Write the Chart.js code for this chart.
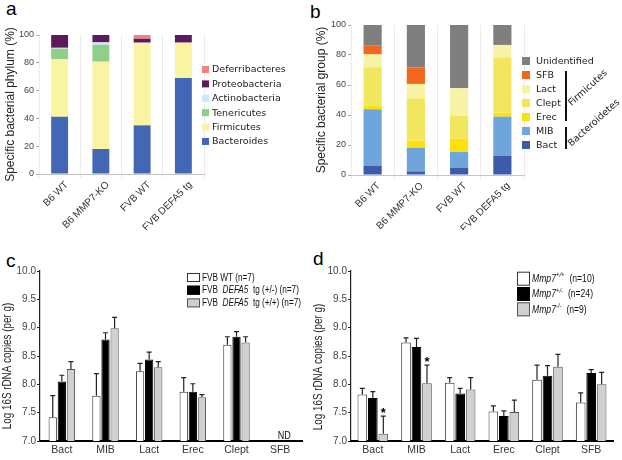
<!DOCTYPE html>
<html>
<head>
<meta charset="utf-8">
<script src="https://cdn.jsdelivr.net/npm/chart.js@4/dist/chart.umd.min.js"></script>
<style>
  body { margin: 0; background: #fff; width: 622px; height: 460px; position: relative; overflow: hidden; font-family: "Liberation Sans", Arial, sans-serif; }
  canvas { position: absolute; }
  .panel { position: absolute; font-size: 19px; line-height: 19px; color: #000; }
</style>
</head>
<body>
<div class="panel" style="left:6px;top:-1px">a</div>
<div class="panel" style="left:310px;top:2px">b</div>
<div class="panel" style="left:6px;top:251px">c</div>
<div class="panel" style="left:313px;top:249px">d</div>
<canvas id="chartA" width="311" height="230" style="left:0;top:0"></canvas>
<canvas id="chartB" width="311" height="230" style="left:311px;top:0"></canvas>
<canvas id="chartC" width="311" height="230" style="left:0;top:230px"></canvas>
<canvas id="chartD" width="311" height="230" style="left:311px;top:230px"></canvas>
<script>
// --- panel a: phylum composition (%) ---
var groups = ['B6 WT', 'B6 MMP7-KO', 'FVB WT', 'FVB DEFA5 tg'];
var phyla = ['Bacteroides', 'Firmicutes', 'Tenericutes', 'Actinobacteria', 'Proteobacteria', 'Deferribacteres'];
var bacteroides = [41.2, 18, 35, 69];
var firmicutes = [41.3, 62.8, 59.5, 25.5];
var tenericutes = [7.7, 12.2, 0, 0];
var actinobacteria = [0.6, 1.7, 0, 0];
var proteobacteria = [9.2, 5.3, 2.8, 5.5];
var deferribacteres = [0, 0, 2.7, 0];

// --- panel b: bacterial groups (%) ---
var bacGroups = ['Bact', 'MIB', 'Erec', 'Clept', 'Lact', 'SFB', 'Unidentified'];
var bBact = [6, 2.4, 4.9, 12.7];
var bMIB = [37.8, 15.8, 10.4, 26.2];
var bErec = [2.6, 4.7, 8.9, 2.7];
var bClept = [25.4, 28.2, 15.1, 36.8];
var bLact = [8.6, 9.6, 18.5, 8.3];
var bSFB = [5.8, 10.9, 0, 0];
var bUnident = [13.8, 28.4, 42.2, 13.3];
var phylumGroups = ['Firmicutes', 'Bacteroidetes'];

var pctTicks = [0, 20, 40, 60, 80, 100];

// --- panels c and d: log 16S rDNA copies ---
var assays = ['Bact', 'MIB', 'Lact', 'Erec', 'Clept', 'SFB'];
var logTicks = [7.0, 7.5, 8.0, 8.5, 9.0, 9.5, 10.0];

var fvbWT = [7.42, 7.80, 8.23, 7.87, 8.70, null];
var fvbWTErr = [0.38, 0.39, 0.14, 0.25, 0.14, null];
var tgHet = [8.05, 8.79, 8.44, 7.87, 8.84, null];
var tgHetErr = [0.11, 0.12, 0.13, 0.14, 0.09, null];
var tgHom = [8.27, 8.99, 8.30, 7.77, 8.74, null];
var tgHomErr = [0.13, 0.19, 0.10, 0.05, 0.10, null];
var notDetected = ['SFB'];

var mmpWT = [7.82, 8.74, 8.03, 7.52, 8.08, 7.68];
var mmpWTErr = [0.11, 0.08, 0.09, 0.10, 0.26, 0.17];
var mmpHet = [7.76, 8.66, 7.84, 7.44, 8.15, 8.20];
var mmpHetErr = [0.11, 0.15, 0.09, 0.09, 0.18, 0.06];
var mmpKO = [7.13, 8.02, 7.91, 7.51, 8.31, 8.00];
var mmpKOErr = [0.31, 0.32, 0.21, 0.21, 0.22, 0.21];
var koSignificant = ['Bact', 'MIB'];

var SANS = '"Liberation Sans", Arial, sans-serif';
var VERD = '"DejaVu Sans", Verdana, sans-serif';
var NARROW_X = 0.82;   // horizontal squeeze, the original uses a narrow face

Chart.defaults.font.family = SANS;
Chart.defaults.animation = false;
Chart.defaults.plugins.legend.display = false;
Chart.defaults.plugins.tooltip.enabled = false;

function setTicks(list) {
    return function (scale) {
        scale.ticks = list.map(function (v) { return { value: v }; });
    };
}

// squeezed text, returns advance width
function narrowText(ctx, text, x, y) {
    ctx.save();
    ctx.translate(x, y);
    ctx.scale(NARROW_X, 1);
    ctx.fillText(text, 0, 0);
    ctx.restore();
    return ctx.measureText(text).width * NARROW_X;
}

// legend drawn to the right of the stacked charts, top row = top segment
function boxLegend(x, y, step, box, textX) {
    return {
        id: 'boxLegend',
        afterDraw: function (chart) {
            var ctx = chart.ctx;
            var ds = chart.data.datasets.slice().reverse();
            ctx.save();
            ctx.font = '9.5px ' + VERD;
            ctx.textBaseline = 'middle';
            ds.forEach(function (d, k) {
                var cy = y + k * step;
                ctx.fillStyle = d.backgroundColor;
                ctx.fillRect(x, cy - box / 2, box, box);
                ctx.fillStyle = '#222';
                ctx.fillText(d.label, textX, cy + 0.5);
            });
            ctx.restore();
        }
    };
}

function stackedScales(title, yWidth, xHeight, shift) {
    return {
        x: {
            stacked: true,
            offset: true,
            grid: { offset: true, color: '#ececec', tickLength: 4 },
            border: { color: '#c4c4c4' },
            ticks: { minRotation: 45, maxRotation: 45, autoSkip: false, padding: 1, labelOffset: shift, color: '#333', font: { size: 10 } },
            afterFit: function (s) { s.height = xHeight; }
        },
        y: {
            stacked: true,
            min: 0,
            max: 100,
            afterBuildTicks: setTicks(pctTicks),
            ticks: { color: '#444', padding: 2, font: { size: 9 } },
            grid: { drawOnChartArea: false, tickLength: 3, color: '#aaa' },
            border: { display: false },
            title: { display: true, text: title, color: '#222', font: { size: 12 }, padding: { top: 3, bottom: 0 } },
            afterFit: function (s) { s.width = yWidth; }
        }
    };
}

// panel a
var phylumValues = [bacteroides, firmicutes, tenericutes, actinobacteria, proteobacteria, deferribacteres];
var phylumColors = ['#4467b5', '#f8f4a2', '#8fcf8b', '#cfe8f5', '#5a1a5c', '#f3817f'];

new Chart(document.getElementById('chartA'), {
    type: 'bar',
    data: {
        labels: groups,
        datasets: phyla.map(function (name, k) {
            return { label: name, data: phylumValues[k], backgroundColor: phylumColors[k], barPercentage: 0.41, categoryPercentage: 1 };
        })
    },
    options: {
        responsive: false,
        layout: { padding: { left: 0, top: 35, right: 107, bottom: 0 } },
        scales: stackedScales('Specific bacterial phylum (%)', 39, 56, 7)
    },
    plugins: [boxLegend(202, 69.5, 14.4, 7, 212)]
});

// panel b
var groupValues = [bBact, bMIB, bErec, bClept, bLact, bSFB, bUnident];
var groupColors = ['#3d5ba9', '#6fa5da', '#fde10e', '#f1e65e', '#f7f3a6', '#f36721', '#7f7f7f'];

var bracketPlugin = {
    id: 'brackets',
    afterDraw: function (chart) {
        var ctx = chart.ctx;
        // legend rows: 0 Unidentified, 1 SFB, 2 Lact, 3 Clept, 4 Erec, 5 MIB, 6 Bact
        var row = function (k) { return 61 + k * 14; };
        var spans = [[1, 4], [5, 6]];
        var labelPos = [[277, 88], [283, 123]];
        ctx.save();
        ctx.strokeStyle = '#111';
        ctx.lineWidth = 2;
        ctx.font = '9.5px ' + VERD;
        ctx.fillStyle = '#222';
        ctx.textAlign = 'center';
        ctx.textBaseline = 'middle';
        spans.forEach(function (s, i) {
            ctx.beginPath();
            ctx.moveTo(255, row(s[0]) - 4);
            ctx.lineTo(255, row(s[1]) + 4);
            ctx.stroke();
            ctx.save();
            ctx.translate(labelPos[i][0], labelPos[i][1]);
            ctx.rotate(-42 * Math.PI / 180);
            ctx.fillText(phylumGroups[i], 0, 0);
            ctx.restore();
        });
        ctx.restore();
    }
};

new Chart(document.getElementById('chartB'), {
    type: 'bar',
    data: {
        labels: groups,
        datasets: bacGroups.map(function (name, k) {
            return { label: name, data: groupValues[k], backgroundColor: groupColors[k], barPercentage: 0.42, categoryPercentage: 1 };
        })
    },
    options: {
        responsive: false,
        layout: { padding: { left: 0, top: 25, right: 98, bottom: 0 } },
        scales: stackedScales('Specific bacterial group (%)', 40, 55, 6)
    },
    plugins: [boxLegend(211, 61, 14, 8, 225), bracketPlugin]
});

// panels c and d
var errorBars = {
    id: 'errorBars',
    afterDatasetsDraw: function (chart) {
        var ctx = chart.ctx;
        var y = chart.scales.y;
        ctx.save();
        ctx.strokeStyle = '#222';
        ctx.lineWidth = 1.2;
        chart.data.datasets.forEach(function (ds, i) {
            chart.getDatasetMeta(i).data.forEach(function (bar, j) {
                var v = ds.data[j], e = ds.errors[j];
                if (v == null || e == null) return;
                var top = y.getPixelForValue(v + e);
                ctx.beginPath();
                ctx.moveTo(bar.x, bar.y);
                ctx.lineTo(bar.x, top);
                ctx.moveTo(bar.x - 2.5, top);
                ctx.lineTo(bar.x + 2.5, top);
                ctx.stroke();
            });
        });
        ctx.restore();
    }
};

function drawRich(ctx, parts, x, y, size) {
    parts.forEach(function (p) {
        var sup = p[1].indexOf('s') >= 0;
        var ital = p[1].indexOf('i') >= 0;
        var fs = sup ? size * 0.7 : size;
        ctx.font = (ital ? 'italic ' : '') + fs + 'px ' + SANS;
        x += narrowText(ctx, p[0], x, sup ? y - size * 0.38 : y);
    });
}

function qpcrLegend(rows, colors, borders, boxX, boxY, step, bw, bh, textX, size) {
    return {
        id: 'qpcrLegend',
        afterDraw: function (chart) {
            var ctx = chart.ctx;
            ctx.save();
            ctx.textBaseline = 'middle';
            rows.forEach(function (parts, k) {
                var cy = boxY + k * step;
                ctx.fillStyle = colors[k];
                ctx.fillRect(boxX, cy - bh / 2, bw, bh);
                ctx.strokeStyle = borders[k];
                ctx.lineWidth = 1;
                ctx.strokeRect(boxX + 0.5, cy - bh / 2 + 0.5, bw - 1, bh - 1);
                ctx.fillStyle = '#111';
                drawRich(ctx, parts, textX, cy + 0.5, size);
            });
            ctx.restore();
        }
    };
}

function yTitle(text, cx, cy) {
    return {
        id: 'yTitle',
        afterDraw: function (chart) {
            var ctx = chart.ctx;
            ctx.save();
            ctx.translate(cx, cy);
            ctx.rotate(-Math.PI / 2);
            ctx.font = '12px ' + SANS;
            ctx.fillStyle = '#222';
            ctx.textBaseline = 'middle';
            var w = ctx.measureText(text).width * NARROW_X;
            narrowText(ctx, text, -w / 2, 0);
            ctx.restore();
        }
    };
}

function logScales() {
    return {
        x: {
            offset: true,
            grid: { display: false, drawTicks: false, tickLength: 0 },
            border: { color: '#000', width: 2 },
            ticks: { autoSkip: false, maxRotation: 0, padding: 3, color: '#333', font: { size: 10.5 } },
            afterFit: function (s) { s.height = 19; }
        },
        y: {
            min: 7,
            max: 10,
            afterBuildTicks: setTicks(logTicks),
            ticks: { color: '#444', padding: 1, font: { size: 10 }, callback: function (v) { return v.toFixed(1); } },
            grid: { drawOnChartArea: false, tickLength: 3, color: '#222' },
            border: { color: '#222', width: 1.2 },
            afterFit: function (s) { s.width = 40; }
        }
    };
}

var barFill = ['#ffffff', '#000000', '#d0d0d0'];
var barLine = ['#333333', '#000000', '#555555'];

function series(label, data, errs, k, catPct, barPct) {
    return {
        label: label, data: data, errors: errs,
        backgroundColor: barFill[k], borderColor: barLine[k], borderWidth: 1,
        categoryPercentage: catPct, barPercentage: barPct
    };
}

var ndPlugin = {
    id: 'notDetected',
    afterDraw: function (chart) {
        var ctx = chart.ctx;
        ctx.save();
        ctx.font = '11px ' + SANS;
        ctx.fillStyle = '#111';
        ctx.textBaseline = 'alphabetic';
        notDetected.forEach(function (name) {
            var x = chart.scales.x.getPixelForValue(assays.indexOf(name));
            var w = ctx.measureText('ND').width * NARROW_X;
            narrowText(ctx, 'ND', x + 4 - w / 2, chart.chartArea.bottom - 2);
        });
        ctx.restore();
    }
};

new Chart(document.getElementById('chartC'), {
    type: 'bar',
    data: {
        labels: assays,
        datasets: [
            series('FVB WT (n=7)', fvbWT, fvbWTErr, 0, 0.625, 0.91),
            series('FVB DEFA5 tg (+/-) (n=7)', tgHet, tgHetErr, 1, 0.625, 0.91),
            series('FVB DEFA5 tg (+/+) (n=7)', tgHom, tgHomErr, 2, 0.625, 0.91)
        ]
    },
    options: {
        responsive: false,
        layout: { padding: { left: 0, top: 41, right: 9, bottom: 0 } },
        scales: logScales()
    },
    plugins: [
        errorBars, ndPlugin,
        yTitle('Log 16S rDNA copies (per g)', 8, 136),
        qpcrLegend([
            [['FVB WT (n=7)', 'n']],
            [['FVB  ', 'n'], ['DEFA5', 'i'], ['  tg (+/-) (n=7)', 'n']],
            [['FVB  ', 'n'], ['DEFA5', 'i'], ['  tg (+/+) (n=7)', 'n']]
        ], barFill, barLine, 187, 47.5, 12.7, 13, 9, 202, 10)
    ]
});

var starPlugin = {
    id: 'stars',
    afterDatasetsDraw: function (chart) {
        var ctx = chart.ctx;
        var meta = chart.getDatasetMeta(2);
        var ds = chart.data.datasets[2];
        ctx.save();
        ctx.font = 'bold 13px ' + SANS;
        ctx.fillStyle = '#000';
        ctx.textAlign = 'center';
        ctx.textBaseline = 'alphabetic';
        koSignificant.forEach(function (name) {
            var j = assays.indexOf(name);
            var top = chart.scales.y.getPixelForValue(ds.data[j] + ds.errors[j]);
            ctx.fillText('*', meta.data[j].x, top + 1);
        });
        ctx.restore();
    }
};

new Chart(document.getElementById('chartD'), {
    type: 'bar',
    data: {
        labels: assays,
        datasets: [
            series('Mmp7+/+ (n=10)', mmpWT, mmpWTErr, 0, 0.72, 0.92),
            series('Mmp7+/- (n=24)', mmpHet, mmpHetErr, 1, 0.72, 0.92),
            series('Mmp7-/- (n=9)', mmpKO, mmpKOErr, 2, 0.72, 0.92)
        ]
    },
    options: {
        responsive: false,
        layout: { padding: { left: 0, top: 41, right: 9, bottom: 0 } },
        scales: logScales()
    },
    plugins: [
        errorBars, starPlugin,
        yTitle('Log 16S rDNA copies (per g)', 8, 137),
        qpcrLegend([
            [['Mmp7', 'i'], ['+/+', 'is'], ['  (n=10)', 'n']],
            [['Mmp7', 'i'], ['+/-', 'is'], ['  (n=24)', 'n']],
            [['Mmp7', 'i'], ['-/-', 'is'], ['  (n=9)', 'n']]
        ], barFill, barLine, 206, 48.7, 15.3, 13, 14, 221, 10.5)
    ]
});
</script>
</body>
</html>
